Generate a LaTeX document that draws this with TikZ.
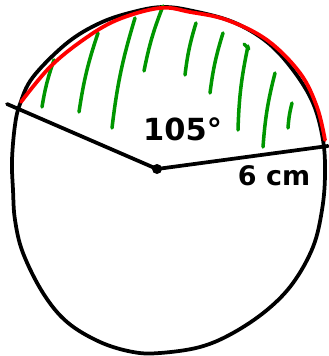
\documentclass[tikz,border=0pt]{standalone}
\usepackage{fontspec}
\setmainfont{DejaVu Sans}
\usepackage{xcolor}
\definecolor{inkblack}{RGB}{0,0,0}
\definecolor{arcred}{RGB}{255,0,0}
\definecolor{hatchgreen}{RGB}{0,150,0}

\begin{document}
\begin{tikzpicture}[x=0.03cm, y=-0.03cm, line cap=round, line join=round]

% Canvas (pixel grid of the sketch)
\useasboundingbox (0,0) rectangle (328,356);

% Centre and ends of the two radii
\coordinate (O) at (157,169);
\coordinate (A) at (7,104);
\coordinate (B) at (328,146);

% 1. CIRCLE (hand drawn)
\draw[inkblack, line width=3.2pt] plot[smooth cycle, tension=0.6] coordinates {
    (163,7) (193,11) (233,22) (267,42) (293,70) (313,103) (323,140)
    (325,175) (322,210) (313,247) (293,283) (267,310) (233,333) (200,347)
    (160,353) (133,352) (100,342) (67,322) (43,293) (23,253) (15,220)
    (13,190) (12,160) (15,125) (20,104) (33,77) (67,43) (100,23) (133,12)
};

% 2. GREEN HATCHING of the segment
\foreach \xa/\ya/\xb/\yb in {54/60/42/107, 98/33/79/112, 135/18/112/128,
    163/6/144/71, 196/23/185/75, 223/33/210/93, 248/46/238/130,
    275/73/263/147, 292/103/288/128}
  \draw[hatchgreen, line width=3pt] (\xa,\ya) to[bend right=5] (\xb,\yb);
\draw[hatchgreen, line width=3pt] (244,44) -- (249,49);

% 3. RED ARC
\draw[arcred, line width=3.2pt] plot[smooth, tension=0.6] coordinates {
    (21,102) (50,67) (83,40) (117,20) (160,8) (190,12) (227,20)
    (267,40) (300,73) (317,107) (325,140)
};

% 4. RADII and centre dot
\draw[inkblack, line width=3.2pt] (A) -- (O) -- (B);
\fill[inkblack] (O) circle (5);

% 5. LABELS
\node[text=inkblack, font=\fontsize{26}{28}\selectfont\bfseries, anchor=west, inner sep=0pt] (angle) at (143,129) {105°};
\node[text=inkblack, font=\fontsize{23}{26}\selectfont\bfseries, inner sep=0pt] (radius) at (274,176) {6 cm};

\end{tikzpicture}
\end{document}
